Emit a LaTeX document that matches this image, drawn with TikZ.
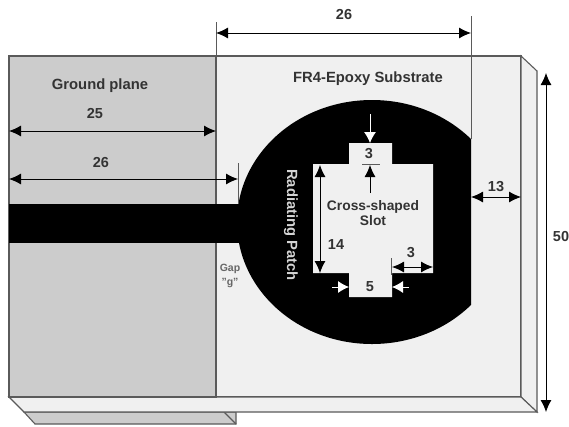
\documentclass[tikz,border=0pt]{standalone}
\usepackage{fontspec}
\setmainfont{Liberation Sans}
\usetikzlibrary{arrows.meta}
\definecolor{subs}{HTML}{F0F0F0}
\definecolor{gnd}{HTML}{CCCCCC}
\definecolor{edgeg}{HTML}{5A5A5A}
\definecolor{txt}{HTML}{333333}
\definecolor{patchtxt}{HTML}{D4D4D4}
\tikzset{
  edgeline/.style={draw=edgeg,line width=1.1pt,line join=miter},
  extline/.style={draw=edgeg,line width=0.9pt},
  dimline/.style={draw=black,line width=0.9pt,{Latex[length=12pt,width=11pt]}-{Latex[length=12pt,width=11pt]}},
  endarrow/.style={draw=black,line width=0.9pt,-{Latex[length=12pt,width=11pt]}},
  whitearrow/.style={draw=white,line width=0.9pt,-{Latex[length=11pt,width=12pt]}},
  lab/.style={font=\bfseries\fontsize{14.8}{15}\selectfont,text=txt,inner sep=0pt,align=center},
  slotlab/.style={font=\bfseries\fontsize{13.8}{15}\selectfont,text=txt,inner sep=0pt,align=center},
  dlab/.style={font=\bfseries\fontsize{14.5}{16}\selectfont,text=txt,inner sep=0pt},
}
\begin{document}
\begin{tikzpicture}[x=1pt,y=-1pt]
\useasboundingbox (0,0) rectangle (569,426);
\fill[white] (0,0) rectangle (569,426);
% rear ground plane edge
\path[edgeline,fill=gnd] (24,412) -- (35,424) -- (236,424) -- (236,412) -- cycle;
\draw[edgeline] (224,412) -- (236,424);
% substrate
\path[edgeline,fill=subs] (9,56) rectangle (521,397);
\path[edgeline,fill=subs] (521,56) -- (537,71) -- (537,412) -- (521,397) -- cycle;
\path[edgeline,fill=subs] (9,397) -- (24,412) -- (537,412) -- (521,397) -- cycle;
% ground
\path[edgeline,fill=gnd] (9,56) rectangle (216,397);
% patch
\begin{scope}
\clip (200,56) rectangle (471,397);
\fill[black] (372,222) ellipse [x radius=135,y radius=122];
\end{scope}
\fill[black] (9,204) rectangle (240,243);
% slot
\fill[subs] (313,164) -- (349,164) -- (349,143) -- (392,143) -- (392,164) -- (433,164)
  -- (433,273) -- (392,273) -- (392,297) -- (349,297) -- (349,273) -- (313,273) -- cycle;
% extension lines
\coordinate (extTopL) at (216,22); \coordinate (extTopLb) at (216,56);
\coordinate (extTopR) at (471,16); \coordinate (extTopRb) at (471,139);
\draw[extline] (extTopL) -- (extTopLb);
\draw[extline] (extTopR) -- (extTopRb);
\draw[extline] (238,163) -- (238,204);
\draw[extline] (362,164) -- (380,164);
\draw[extline] (391,258) -- (391,275);
% dimensions
\coordinate (a1) at (216,33); \coordinate (a2) at (471,33);
\draw[dimline] (a1) -- (a2);
\coordinate (b1) at (9,131); \coordinate (b2) at (216,131);
\draw[dimline] (b1) -- (b2);
\coordinate (c1) at (9,179); \coordinate (c2) at (238,179);
\draw[dimline] (c1) -- (c2);
\coordinate (d1) at (471,197); \coordinate (d2) at (521,197);
\draw[dimline] (d1) -- (d2);
\coordinate (e1) at (546,73); \coordinate (e2) at (546,412);
\draw[dimline] (e1) -- (e2);
\coordinate (f1) at (320,165); \coordinate (f2) at (320,273);
\draw[dimline] (f1) -- (f2);
\coordinate (g1) at (392,267); \coordinate (g2) at (433,267);
\draw[dimline] (g1) -- (g2);
\coordinate (h1) at (370,193); \coordinate (h2) at (370,165);
\draw[endarrow] (h1) -- (h2);
\coordinate (i1) at (370,114); \coordinate (i2) at (370,143);
\draw[whitearrow] (i1) -- (i2);
\coordinate (j1) at (332,287); \coordinate (j2) at (349,287);
\draw[whitearrow] (j1) -- (j2);
\coordinate (k1) at (409,287); \coordinate (k2) at (392,287);
\draw[whitearrow] (k1) -- (k2);
% labels
\node[dlab] (t26a) at (344,15) {26};
\node[lab] (tgp) at (100,86) {Ground plane};
\node[lab] (tfr) at (368,79) {FR4-Epoxy Substrate};
\node[dlab] (t25) at (95,114) {25};
\node[dlab] (t26b) at (101,163) {26};
\node[dlab] (t13) at (496,187) {13};
\node[dlab] (t50) at (561,237) {50};
\node[dlab] (t14) at (336,245) {14};
\node[dlab] (t3a) at (369,154) {3};
\node[dlab] (t3b) at (411,253) {3};
\node[dlab] (t5) at (370,287) {5};
\node[slotlab] (tslot) at (373,213) {Cross-shaped\\Slot};
\node[lab,text=patchtxt,rotate=-90] (trad) at (291,225) {Radiating Patch};
\node[font=\bfseries\fontsize{10.5}{14}\selectfont,text=txt!75,inner sep=0pt,align=center] (tgap) at (230,276) {Gap\\"g"};
\end{tikzpicture}
\end{document}
